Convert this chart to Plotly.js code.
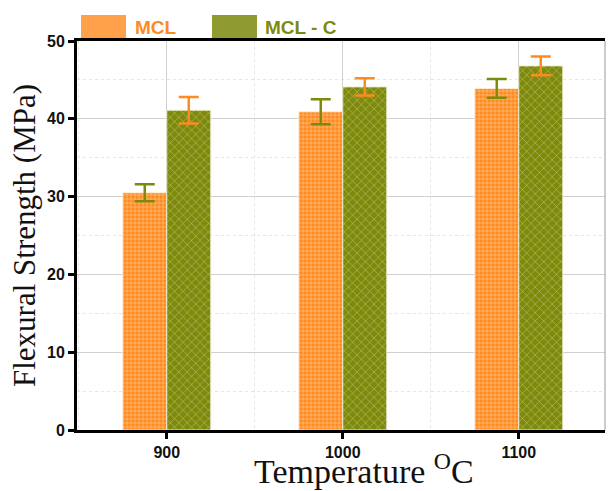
<!DOCTYPE html>
<html>
<head>
<meta charset="utf-8">
<script src="https://cdn.plot.ly/plotly-3.0.1.min.js"></script>
<style>html,body{margin:0;padding:0;background:#fff;}#chart{width:608px;height:491px;}</style>
</head>
<body>
<div id="chart"></div>
<script>
// Data
const temperatures = [900, 1000, 1100];
const tickLabels = ['900', '1000', '1100'];
const seriesNames = ['MCL', 'MCL - C'];
const mclValues = [30.5, 40.9, 43.9];
const mclErrors = [1.1, 1.6, 1.2];
const mclcValues = [41.1, 44.1, 46.8];
const mclcErrors = [1.7, 1.1, 1.2];

const ORANGE = '#ff8a1e';
const OLIVE = '#7d8a0c';

const PLOT_TOP = 41, PLOT_BOTTOM = 430, PLOT_LEFT = 77, PLOT_RIGHT = 605;
const PH = PLOT_BOTTOM - PLOT_TOP, PW = PLOT_RIGHT - PLOT_LEFT;
const px = X => (X - PLOT_LEFT) / PW;
const py = Y => (PLOT_BOTTOM - Y) / PH;

const traces = [
  {
    type: 'bar', name: seriesNames[0], x: temperatures, y: mclValues,
    offsetgroup: 'a',
    marker: {
      color: ORANGE,
      line: {color: 'rgba(255,240,220,0.9)', width: 1},
      pattern: {shape: '+', bgcolor: ORANGE, fgcolor: '#ffcf9c', size: 4, solidity: 0.25}
    },
    error_y: {type: 'data', array: mclErrors, visible: true, color: OLIVE, thickness: 2.5, width: 10},
    showlegend: false
  },
  {
    type: 'bar', name: seriesNames[1], x: temperatures, y: mclcValues,
    offsetgroup: 'b',
    marker: {
      color: OLIVE,
      line: {color: 'rgba(240,240,210,0.9)', width: 1},
      pattern: {shape: 'x', bgcolor: OLIVE, fgcolor: '#cfcf8e', size: 6, solidity: 0.15}
    },
    error_y: {type: 'data', array: mclcErrors, visible: true, color: ORANGE, thickness: 2.5, width: 10},
    showlegend: false
  }
];

const tickFont = {family: 'Liberation Sans, Arial, sans-serif', size: 16, color: '#111', weight: 'bold'};
const titleFont = {family: 'Liberation Serif, Times New Roman, serif', color: '#111'};

const layout = {
  width: 608, height: 491,
  margin: {l: PLOT_LEFT, r: 608 - PLOT_RIGHT, t: PLOT_TOP, b: 491 - PLOT_BOTTOM},
  paper_bgcolor: '#fff', plot_bgcolor: '#fff',
  barmode: 'group', bargap: 0.5, bargroupgap: 0,
  showlegend: false,
  xaxis: {
    range: [849, 1149],
    tickmode: 'array', tickvals: temperatures, ticktext: tickLabels,
    ticks: 'outside', ticklen: 6, tickwidth: 3, tickcolor: '#000',
    showline: true, linecolor: '#000', linewidth: 3, mirror: true,
    showgrid: true, gridcolor: '#d0d0d0', gridwidth: 1,
    minor: {tick0: 850, dtick: 50, showgrid: true, gridcolor: '#e6e6e6', griddash: 'dot', ticks: ''},
    zeroline: false,
    tickfont: tickFont
  },
  yaxis: {
    range: [0, 50], dtick: 10,
    ticks: 'outside', ticklen: 6, tickwidth: 3, tickcolor: '#000',
    showline: true, linecolor: '#000', linewidth: 3, mirror: false,
    showgrid: true, gridcolor: '#d0d0d0', gridwidth: 1,
    minor: {dtick: 5, showgrid: true, gridcolor: '#e6e6e6', griddash: 'dot', ticks: ''},
    zeroline: false,
    tickfont: tickFont,
    title: {text: 'Flexural Strength (MPa)', standoff: 3, font: Object.assign({size: 31}, titleFont)}
  },
  shapes: [
    {type: 'line', xref: 'paper', yref: 'paper', x0: 1, x1: 1, y0: 0, y1: 1,
      line: {color: '#999', width: 1}},
    {type: 'rect', xref: 'paper', yref: 'paper', x0: px(81), x1: px(126), y0: py(38), y1: py(15),
      fillcolor: '#ffa04a', line: {width: 0}},
    {type: 'rect', xref: 'paper', yref: 'paper', x0: px(212), x1: px(257), y0: py(38), y1: py(15),
      fillcolor: '#8f9a30', line: {width: 0}}
  ],
  annotations: [
    {xref: 'paper', yref: 'paper', x: px(133), y: py(27), xanchor: 'left', yanchor: 'middle',
      text: seriesNames[0], showarrow: false,
      font: {family: 'Liberation Sans, Arial, sans-serif', size: 19, color: ORANGE, weight: 'bold'}},
    {xref: 'paper', yref: 'paper', x: px(263), y: py(27), xanchor: 'left', yanchor: 'middle',
      text: seriesNames[1], showarrow: false,
      font: {family: 'Liberation Sans, Arial, sans-serif', size: 19, color: OLIVE, weight: 'bold'}},
    {xref: 'paper', yref: 'paper', x: px(364), y: py(492), xanchor: 'center', yanchor: 'bottom',
      text: 'Temperature <sup>O</sup>C', showarrow: false,
      font: Object.assign({size: 34}, titleFont)}
  ]
};

Plotly.newPlot('chart', traces, layout, {displayModeBar: false, staticPlot: true});
</script>
</body>
</html>
